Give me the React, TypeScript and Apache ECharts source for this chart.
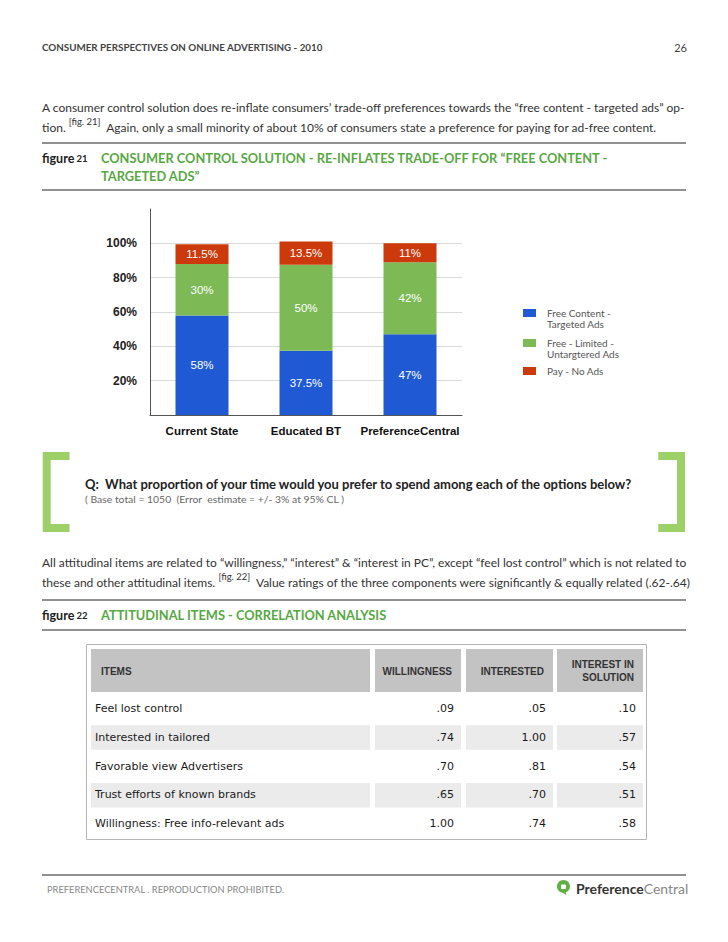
import React, { useEffect, useRef } from 'react';
import * as echarts from 'echarts';

// ---------- Figure 21 data ----------
const categories = ['Current State', 'Educated BT', 'PreferenceCentral'];
const freeContentTargeted = [58, 37.5, 47];
const freeLimitedUntargeted = [30, 50, 42];
const payNoAds = [11.5, 13.5, 11];
const seriesNames = ['Free Content -\nTargeted Ads', 'Free - Limited -\nUntargtered Ads', 'Pay - No Ads'];
const seriesColors = ['#1f5ad4', '#7dba55', '#cc3a0c'];

// ---------- Figure 22 data ----------
const tableHeaders = ['ITEMS', 'WILLINGNESS', 'INTERESTED', 'INTEREST IN\nSOLUTION'];
const tableItems = [
  'Feel lost control',
  'Interested in tailored',
  'Favorable view Advertisers',
  'Trust efforts of known brands',
  'Willingness: Free info-relevant ads',
];
const willingness = [0.09, 0.74, 0.70, 0.65, 1.00];
const interested = [0.05, 1.00, 0.81, 0.70, 0.74];
const interestInSolution = [0.10, 0.57, 0.54, 0.51, 0.58];

echarts.graphic.registerShape(
  'pcLogo',
  echarts.graphic.extendPath(
    'M6.5 0 C10.1 0 13 2.8 13 6.4 C13 9.2 11.2 11.5 8.7 12.3 L9.5 15 L5.6 12.7 C2.4 12.3 0 9.6 0 6.4 C0 2.8 2.9 0 6.5 0 Z',
    {}
  )
);

const BODY = 'Lato, "Open Sans", sans-serif';
const GREEN_T = '#57a843';
const BRACKET = '#9dd066';

function fmtCorr(v: number) {
  const s = v.toFixed(2);
  return v < 1 ? s.replace(/^0/, '') : s;
}

function txt(x: number, y: number, text: string, o: any = {}) {
  return {
    type: 'text',
    x,
    y,
    silent: true,
    style: {
      text,
      fill: o.fill || '#333',
      fontSize: o.fontSize || 11,
      fontFamily: o.fontFamily || BODY,
      fontWeight: o.fontWeight || 'normal',
      align: o.align || 'left',
      textAlign: o.align || 'left',
      verticalAlign: 'middle',
      textVerticalAlign: 'middle',
      lineHeight: o.lineHeight,
      rich: o.rich,
    },
  };
}
function hline(y: number, x1 = 42, x2 = 686, stroke = '#222') {
  return { type: 'line', silent: true, shape: { x1, y1: y, x2, y2: y }, style: { stroke, lineWidth: 1 } };
}

const P_SIZE = 12;
const supRich = {
  n: { fontSize: P_SIZE, fontFamily: BODY, fill: '#333', lineHeight: 22, verticalAlign: 'middle' },
  s: { fontSize: 9.5, fontFamily: BODY, fill: '#333', lineHeight: 12, verticalAlign: 'top' },
};
const figRich = {
  a: { fontSize: 12.5, fontFamily: BODY, fontWeight: 'bold', fill: '#222' },
  b: { fontSize: 9.5, fontFamily: BODY, fontWeight: 'bold', fill: '#222' },
};

function buildGraphics() {
  const g: any[] = [];
  // header
  g.push(txt(42, 47, 'CONSUMER PERSPECTIVES ON ONLINE ADVERTISING - 2010', { fontSize: 9.8, fontWeight: 'bold', fill: '#444' }));
  g.push(txt(687, 47, '26', { fontSize: 11, fill: '#444', align: 'right' }));

  // paragraph 1
  g.push(txt(42, 107, 'A consumer control solution does re-inflate consumers\u2019 trade-off preferences towards the \u201Cfree content - targeted ads\u201D op-', { fontSize: P_SIZE, fill: '#333' }));
  g.push(txt(42, 127, '{n|tion. }{s|[fig. 21]}{n|  Again, only a small minority of about 10% of consumers state a preference for paying for ad-free content.}', { rich: supRich }));
  g.push(hline(143));
  g.push(txt(42, 158, '{a|figure}{b| 21}', { rich: figRich }));
  g.push(txt(101, 158, 'CONSUMER CONTROL SOLUTION - RE-INFLATES TRADE-OFF FOR \u201CFREE CONTENT -', { fontSize: 12.8, fontWeight: 'bold', fill: GREEN_T }));
  g.push(txt(101, 176, 'TARGETED ADS\u201D', { fontSize: 12.8, fontWeight: 'bold', fill: GREEN_T }));
  g.push(hline(190));

  // brackets
  g.push({ type: 'polyline', silent: true, shape: { points: [[69.5, 456], [46.7, 456], [46.7, 528], [69.5, 528]] }, style: { stroke: BRACKET, lineWidth: 8, fill: null, lineJoin: 'miter', lineCap: 'butt' } });
  g.push({ type: 'polyline', silent: true, shape: { points: [[658.3, 456], [681, 456], [681, 528], [658.3, 528]] }, style: { stroke: BRACKET, lineWidth: 8, fill: null, lineJoin: 'miter', lineCap: 'butt' } });
  g.push(txt(85, 484, 'Q:  What proportion of your time would you prefer to spend among each of the options below?', { fontSize: 13, fontWeight: 'bold', fill: '#222' }));
  g.push(txt(85, 499, '( Base total = 1050  (Error  estimate = +/- 3% at 95% CL )', { fontSize: 10.4, fill: '#666' }));

  // paragraph 2
  g.push(txt(42, 562, 'All attitudinal items are related to \u201Cwillingness,\u201D \u201Cinterest\u201D & \u201Cinterest in PC\u201D, except \u201Cfeel lost control\u201D which is not related to', { fontSize: P_SIZE, fill: '#333' }));
  g.push(txt(42, 582, '{n|these and other attitudinal items. }{s|[fig. 22]}{n|  Value ratings of the three components were significantly & equally related (.62-.64)}', { rich: supRich }));
  g.push(hline(600));
  g.push(txt(42, 615, '{a|figure}{b| 22}', { rich: figRich }));
  g.push(txt(101, 615, 'ATTITUDINAL ITEMS - CORRELATION ANALYSIS', { fontSize: 12.8, fontWeight: 'bold', fill: GREEN_T }));
  g.push(hline(630));

  // table
  const colX = [91, 375, 466, 557];
  const colR = [370, 461, 553, 643];
  g.push({ type: 'rect', silent: true, shape: { x: 86.5, y: 644.5, width: 560, height: 195 }, style: { fill: 'none', stroke: '#b5b5b5', lineWidth: 1 } });
  tableHeaders.forEach((h, c) => {
    g.push({ type: 'rect', silent: true, shape: { x: colX[c], y: 649, width: colR[c] - colX[c], height: 43 }, style: { fill: '#c3c3c3' } });
    if (c === 0) {
      g.push(txt(101, 671, h, { fontSize: 10, fontWeight: 'bold', fontFamily: '"Liberation Sans", Arial, sans-serif', fill: '#333' }));
    } else {
      g.push(txt(colR[c] - 9, 671, h, { fontSize: 10, fontWeight: 'bold', fontFamily: '"Liberation Sans", Arial, sans-serif', fill: '#333', align: 'right', lineHeight: 13.5 }));
    }
  });
  const cols = [willingness, interested, interestInSolution];
  tableItems.forEach((item, r) => {
    const cy = 708.5 + r * 28.8;
    if (r % 2 === 1) {
      colX.forEach((x, c) => {
        g.push({ type: 'rect', silent: true, shape: { x, y: cy - 12, width: colR[c] - x, height: 24.5 }, style: { fill: '#ebebeb' } });
      });
    }
    g.push(txt(95, cy, item, { fontSize: 11, fontFamily: '"DejaVu Sans", sans-serif', fill: '#1a1a1a' }));
    cols.forEach((arr, c) => {
      g.push(txt(colR[c + 1] - 7, cy, fmtCorr(arr[r]), { fontSize: 11, fontFamily: '"DejaVu Sans", sans-serif', fill: '#1a1a1a', align: 'right' }));
    });
  });

  // footer
  g.push(hline(875));
  g.push(txt(47, 889, 'PREFERENCECENTRAL . REPRODUCTION PROHIBITED.', { fontSize: 9.3, fill: '#888' }));
  g.push({ type: 'pcLogo', silent: true, x: 557, y: 880, style: { fill: '#62b043' } });
  g.push({ type: 'rect', silent: true, shape: { x: 561, y: 884.5, width: 5, height: 4.5, r: 1 }, style: { fill: '#ffffff' } });
  g.push(txt(576, 888, '{a|Preference}{b|Central}', {
    rich: {
      a: { fontSize: 14, fontFamily: BODY, fontWeight: 'bold', fill: '#333' },
      b: { fontSize: 14, fontFamily: BODY, fill: '#888' },
    },
  }));
  return g;
}

function makeLegend(name: string, iconCenter: number) {
  const lines = name.split('\n').length;
  const lh = 11;
  const blockH = lines > 1 ? (lines + 1) * lh : lh;
  return {
    data: [name],
    orient: 'vertical',
    left: 523,
    top: iconCenter - blockH / 2,
    padding: 0,
    itemWidth: 13,
    itemHeight: 8,
    icon: 'rect',
    selectedMode: false,
    formatter: (n: string) => (n.indexOf('\n') >= 0 ? '\n' + n : n),
    textStyle: { color: '#555', fontSize: 10, fontFamily: BODY, lineHeight: lh, padding: [0, 0, 0, 6] },
  };
}

function buildOption() {
  const data = [freeContentTargeted, freeLimitedUntargeted, payNoAds];
  return {
    animation: false,
    backgroundColor: '#ffffff',
    grid: { left: 150, top: 209, width: 312, height: 206, containLabel: false },
    legend: [makeLegend(seriesNames[0], 313), makeLegend(seriesNames[1], 343), makeLegend(seriesNames[2], 371)],
    xAxis: {
      type: 'category',
      data: categories,
      axisLine: { lineStyle: { color: '#555', width: 1 } },
      axisTick: { show: false },
      axisLabel: { interval: 0, color: '#111', fontSize: 11.5, fontWeight: 'bold', fontFamily: '"Liberation Sans", Arial, sans-serif', margin: 10 },
    },
    yAxis: {
      type: 'value',
      min: 0,
      max: 120,
      interval: 20,
      axisLine: { show: true, lineStyle: { color: '#555', width: 1 } },
      axisTick: { show: false },
      splitLine: { show: true, showMaxLine: false, lineStyle: { color: '#dadada', width: 1 } },
      axisLabel: {
        color: '#222',
        fontSize: 12,
        fontWeight: 'bold',
        fontFamily: '"Liberation Sans", Arial, sans-serif',
        margin: 13,
        showMaxLabel: false,
        formatter: (v: number) => (v > 0 && v <= 100 ? v + '%' : ''),
      },
    },
    series: seriesNames.map((name, i) => ({
      name,
      type: 'bar',
      stack: 'total',
      barWidth: 53,
      data: data[i],
      itemStyle: { color: seriesColors[i] },
      label: {
        show: true,
        position: 'inside',
        color: '#fff',
        fontSize: 11.5,
        fontFamily: '"Liberation Sans", Arial, sans-serif',
        formatter: (p: any) => p.value + '%',
      },
    })),
    graphic: { elements: buildGraphics() },
  };
}

export default function App() {
  const ref = useRef<HTMLDivElement>(null);
  useEffect(() => {
    document.body.style.margin = '0';
    const chart = echarts.init(ref.current as HTMLDivElement, null, { renderer: 'svg' });
    chart.setOption(buildOption() as any);
    return () => chart.dispose();
  }, []);
  return <div ref={ref} style={{ position: 'absolute', left: 0, top: 0, width: 728, height: 942, background: '#fff' }} />;
}
